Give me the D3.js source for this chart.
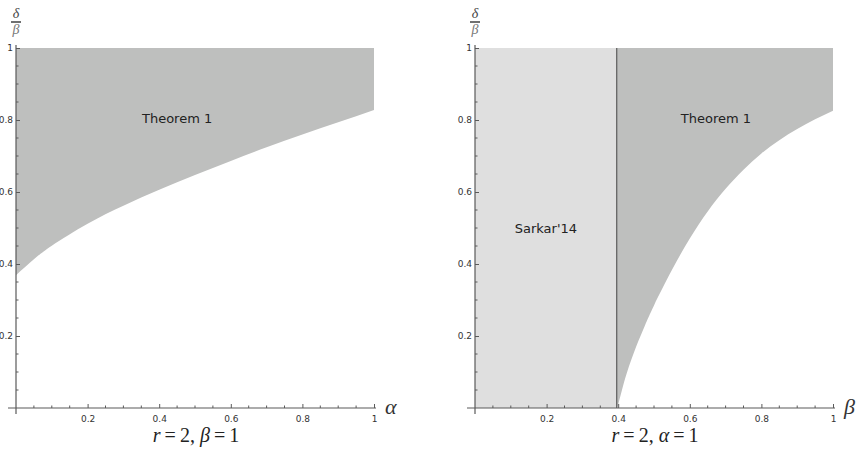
<!DOCTYPE html>
<html>
<head>
<meta charset="utf-8">
<script src="https://cdn.jsdelivr.net/npm/d3@7"></script>
<style>
  body { margin: 0; background: #fff; }
  svg { display: block; }
</style>
</head>
<body>
<svg id="chart" width="865" height="455"></svg>
<script>
// ---- data
const alphaL = [0, 0.05, 0.1, 0.2, 0.3, 0.4, 0.5, 0.6, 0.7, 0.8, 0.9, 1];
const boundL = [0.369, 0.413, 0.451, 0.512, 0.562, 0.606, 0.647, 0.686, 0.724, 0.76, 0.794, 0.828];

const betaR = [0.3975, 0.41, 0.425, 0.45, 0.475, 0.5, 0.55, 0.6, 0.65, 0.7, 0.75, 0.8, 0.85, 0.9, 0.95, 1];
const boundR = [0, 0.048, 0.1, 0.17, 0.23, 0.285, 0.383, 0.471, 0.546, 0.609, 0.662, 0.707, 0.744, 0.775, 0.802, 0.826];

const sarkarBeta = 0.396;

const majorTicks = [0.2, 0.4, 0.6, 0.8, 1];
const minorTicks = d3.range(1, 20).map(i => i * 0.05).filter(v => Math.abs(v * 5 - Math.round(v * 5)) > 1e-6);

const captions = [
  { r: "2", sym: "β", val: "1" },   // left
  { r: "2", sym: "α", val: "1" }    // right
];

const theoremFill = "#bebfbe";
const sarkarFill = "#dfdfdf";
const axisColor = "#5a5a5a";
const tickFont = "DejaVu Sans, sans-serif";
const mathFont = "Liberation Serif, DejaVu Serif, serif";

const svg = d3.select("#chart");

function panel(x0, x1, xs, ys, axisName, cap, sarkar) {
  const x = d3.scaleLinear().domain([0, 1]).range([x0, x1]);
  const y = d3.scaleLinear().domain([0, 1]).range([408, 48]);
  const g = svg.append("g");

  // sarkar strip
  if (sarkar != null) {
    g.append("rect")
      .attr("x", x(0)).attr("y", y(1))
      .attr("width", x(sarkar) - x(0)).attr("height", y(0) - y(1))
      .attr("fill", sarkarFill);
  }

  // theorem 1 region: above boundary, up to 1
  const area = d3.area()
    .x((d, i) => x(xs[i]))
    .y0(y(1))
    .y1((d, i) => y(d))
    .curve(d3.curveNatural);
  g.append("path")
    .datum(ys)
    .attr("d", area)
    .attr("fill", theoremFill);

  if (sarkar != null) {
    g.append("line")
      .attr("x1", x(sarkar)).attr("x2", x(sarkar))
      .attr("y1", y(0)).attr("y2", y(1))
      .attr("stroke", axisColor).attr("stroke-width", 1.3);
  }

  // x axis
  const xAxis = d3.axisBottom(x).tickValues(majorTicks).tickSizeInner(-4).tickSizeOuter(0)
    .tickFormat(d => d === 1 ? "1" : d3.format(".1f")(d)).tickPadding(8);
  const xg = g.append("g").attr("transform", `translate(0,${y(0)})`).call(xAxis);
  xg.select(".domain").remove();
  xg.append("line").attr("x1", x(0) - 8).attr("x2", x(1) + 2).attr("stroke", axisColor).attr("stroke-width", 1.2);
  xg.selectAll(".tick line").attr("stroke", axisColor);
  xg.selectAll(".tick text").attr("fill", "#333").style("font-family", tickFont).style("font-size", "9px");
  xg.selectAll(".minor").data(minorTicks).enter().append("line")
    .attr("x1", d => x(d)).attr("x2", d => x(d)).attr("y1", 0).attr("y2", -2.5)
    .attr("stroke", axisColor);

  // y axis
  const yAxis = d3.axisLeft(y).tickValues(majorTicks).tickSizeInner(-4).tickSizeOuter(0)
    .tickFormat(d => d === 1 ? "1" : d3.format(".1f")(d)).tickPadding(3);
  const yg = g.append("g").attr("transform", `translate(${x(0)},0)`).call(yAxis);
  yg.select(".domain").remove();
  yg.append("line").attr("y1", y(0) + 6).attr("y2", y(1) - 3).attr("stroke", axisColor).attr("stroke-width", 1.2);
  yg.selectAll(".tick line").attr("stroke", axisColor);
  yg.selectAll(".tick text").attr("fill", "#333").style("font-family", tickFont).style("font-size", "9px");
  yg.selectAll(".minor").data(minorTicks).enter().append("line")
    .attr("y1", d => y(d)).attr("y2", d => y(d)).attr("x1", 0).attr("x2", 2.5)
    .attr("stroke", axisColor);

  // region labels
  g.append("text")
    .attr("x", sarkar != null ? x(0.673) : x(0.45)).attr("y", y(0.8) + 3)
    .attr("text-anchor", "middle")
    .style("font-family", tickFont).style("font-size", "13px").attr("fill", "#222")
    .text("Theorem 1");
  if (sarkar != null) {
    g.append("text")
      .attr("x", x(sarkar / 2)).attr("y", y(0.5) + 5)
      .attr("text-anchor", "middle")
      .style("font-family", tickFont).style("font-size", "13px").attr("fill", "#222")
      .text("Sarkar'14");
  }

  // axis variable name
  g.append("text")
    .attr("x", x(1) + 11).attr("y", y(0) + 6)
    .style("font-family", mathFont).style("font-style", "italic").style("font-size", "22px")
    .attr("fill", "#333")
    .text(axisName);

  // delta / beta fraction
  const fx = x(0);
  g.append("text").attr("x", fx).attr("y", 18).attr("text-anchor", "middle")
    .style("font-family", mathFont).style("font-style", "italic").style("font-size", "14px").attr("fill", "#444")
    .text("δ");
  g.append("line").attr("x1", fx - 5).attr("x2", fx + 5).attr("y1", 22).attr("y2", 22)
    .attr("stroke", "#222").attr("stroke-width", 1.3);
  g.append("text").attr("x", fx).attr("y", 34).attr("text-anchor", "middle")
    .style("font-family", mathFont).style("font-style", "italic").style("font-size", "14px").attr("fill", "#777")
    .text("β");

  // caption
  const c = g.append("text").attr("x", (x(0) + x(1)) / 2 + 1).attr("y", 442).attr("text-anchor", "middle")
    .style("font-family", mathFont).style("font-size", "20px").attr("fill", "#222");
  c.append("tspan").style("font-style", "italic").text("r");
  c.append("tspan").text("\u2009=\u2009" + cap.r + ", ");
  c.append("tspan").style("font-style", "italic").text(cap.sym);
  c.append("tspan").text("\u2009=\u2009" + cap.val);
}

panel(16, 374, alphaL, boundL, "α", captions[0], null);
panel(475, 833, betaR, boundR, "β", captions[1], sarkarBeta);
</script>
</body>
</html>
